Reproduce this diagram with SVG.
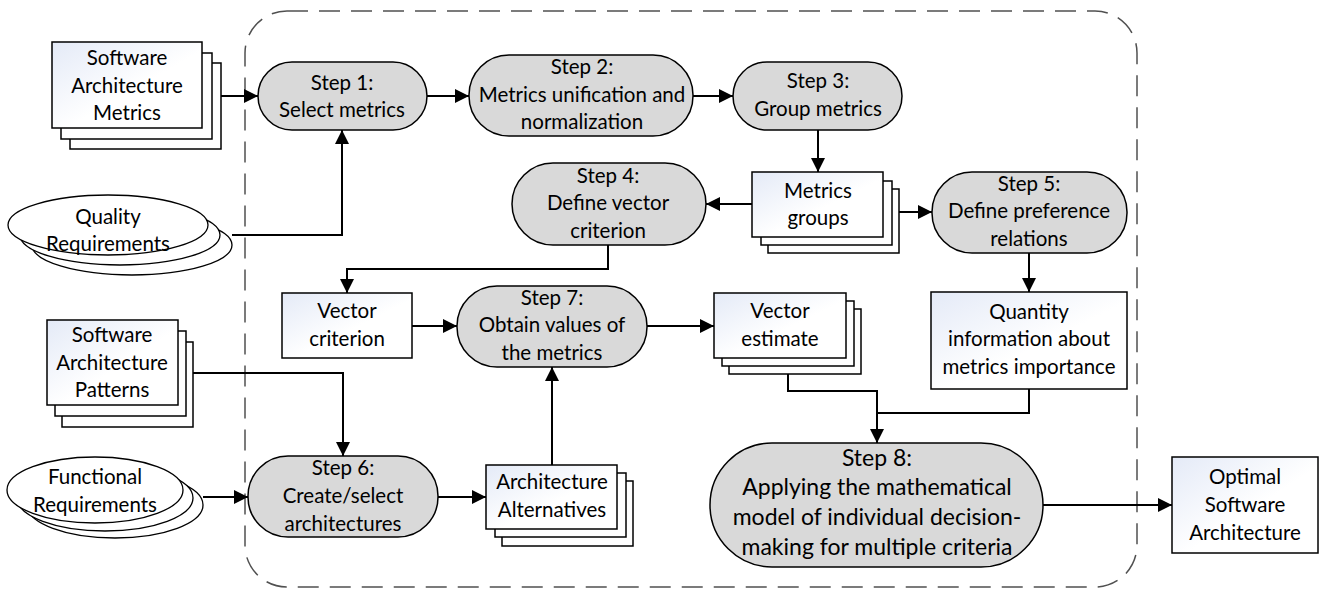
<svg xmlns="http://www.w3.org/2000/svg" width="1325" height="589" viewBox="0 0 1325 589">
  <defs>
    <linearGradient id="docFill" x1="0" y1="0" x2="1" y2="1">
      <stop offset="0" stop-color="#e4eaf7"/>
      <stop offset="0.55" stop-color="#ffffff"/>
    </linearGradient>
    <marker id="arrow" markerUnits="userSpaceOnUse" markerWidth="14" markerHeight="14" refX="14" refY="7" orient="auto">
      <path d="M0,0 L14,7 L0,14 z" fill="#000"/>
    </marker>
    <style>
      text { font-family: Lato, "Liberation Sans", sans-serif; font-size: 20.5px; fill: #000; text-anchor: middle; }
      .big { font-size: 23px; }
      .step { fill: #d9d9d9; stroke: #000; stroke-width: 1.5; }
      .doc { fill: url(#docFill); stroke: #000; stroke-width: 1.5; }
      .sheet { fill: #fff; stroke: #000; stroke-width: 1.5; }
      .oval { fill: #fff; stroke: #000; stroke-width: 1.3; }
      .frame { fill: none; stroke: #505050; stroke-width: 1.5; stroke-dasharray: 21 11; }
      .link { fill: none; stroke: #000; stroke-width: 2; marker-end: url(#arrow); }
    </style>
  </defs>

  <rect width="1325" height="589" fill="#fff"/>

  <!-- method boundary -->
  <rect class="frame" x="245" y="11" width="892" height="576" rx="42" ry="42"/>

  <!-- connectors -->
  <g id="connectors">
    <path class="link" d="M221,96 H258"/>
    <path class="link" d="M232,235 H342 V130"/>
    <path class="link" d="M427,96 H469"/>
    <path class="link" d="M693,96 H733"/>
    <path class="link" d="M818,130 V172"/>
    <path class="link" d="M752,204 H706"/>
    <path class="link" d="M899,212 H932"/>
    <path class="link" d="M1029,253 V292"/>
    <path class="link" d="M608,245 V269 H347 V293"/>
    <path class="link" d="M412,326 H457"/>
    <path class="link" d="M647,326 H714"/>
    <path class="link" d="M186,373 H343 V456"/>
    <path class="link" d="M203,497 H248"/>
    <path class="link" d="M438,497 H486"/>
    <path class="link" d="M552,465 V367"/>
    <path class="link" d="M788,366 V391 H877 V443"/>
    <path fill="none" stroke="#000" stroke-width="2" d="M1029,389 V413 H877"/>
    <path class="link" d="M1043,505 H1172"/>
  </g>

  <!-- inputs -->
  <g id="software-architecture-metrics">
    <rect class="sheet" x="70" y="63" width="151" height="86"/>
    <rect class="sheet" x="61" y="53" width="151" height="86"/>
    <rect class="doc" x="52" y="42" width="150" height="86"/>
    <text x="127" y="65">Software</text>
    <text x="127" y="93">Architecture</text>
    <text x="127" y="120">Metrics</text>
  </g>

  <g id="quality-requirements">
    <ellipse class="oval" cx="132" cy="245" rx="100" ry="30"/>
    <ellipse class="oval" cx="120" cy="235" rx="100" ry="30"/>
    <ellipse class="oval" cx="108" cy="225" rx="100" ry="30"/>
    <text x="108" y="224">Quality</text>
    <text x="108" y="251">Requirements</text>
  </g>

  <g id="software-architecture-patterns">
    <rect class="sheet" x="62" y="342" width="131" height="85"/>
    <rect class="sheet" x="55" y="331" width="131" height="85"/>
    <rect class="doc" x="47" y="320" width="131" height="85"/>
    <text x="112" y="342">Software</text>
    <text x="112" y="370">Architecture</text>
    <text x="112" y="397">Patterns</text>
  </g>

  <g id="functional-requirements">
    <ellipse class="oval" cx="115" cy="505" rx="88" ry="33"/>
    <ellipse class="oval" cx="105" cy="498" rx="88" ry="33"/>
    <ellipse class="oval" cx="95" cy="490" rx="88" ry="33"/>
    <text x="95" y="484">Functional</text>
    <text x="95" y="512">Requirements</text>
  </g>

  <!-- steps -->
  <g id="step1">
    <rect class="step" x="258" y="62" width="169" height="68" rx="34"/>
    <text x="342" y="90">Step 1:</text>
    <text x="342" y="117">Select metrics</text>
  </g>

  <g id="step2">
    <rect class="step" x="469" y="55" width="224" height="81" rx="40"/>
    <text x="582" y="74">Step 2:</text>
    <text x="582" y="102">Metrics unification and</text>
    <text x="582" y="129">normalization</text>
  </g>

  <g id="step3">
    <rect class="step" x="733" y="62" width="169" height="68" rx="34"/>
    <text x="818" y="88">Step 3:</text>
    <text x="818" y="116">Group metrics</text>
  </g>

  <g id="metrics-groups">
    <rect class="sheet" x="768" y="189" width="131" height="64"/>
    <rect class="sheet" x="761" y="181" width="131" height="64"/>
    <rect class="doc" x="752" y="172" width="131" height="65"/>
    <text x="818" y="198">Metrics</text>
    <text x="818" y="225">groups</text>
  </g>

  <g id="step4">
    <rect class="step" x="512" y="163" width="194" height="82" rx="41"/>
    <text x="608" y="183">Step 4:</text>
    <text x="608" y="210">Define vector</text>
    <text x="608" y="238">criterion</text>
  </g>

  <g id="step5">
    <rect class="step" x="932" y="172" width="195" height="81" rx="40"/>
    <text x="1029" y="191">Step 5:</text>
    <text x="1029" y="218">Define preference</text>
    <text x="1029" y="246">relations</text>
  </g>

  <g id="quantity-information">
    <rect class="doc" x="931" y="292" width="196" height="97"/>
    <text x="1029" y="319">Quantity</text>
    <text x="1029" y="346">information about</text>
    <text x="1029" y="374">metrics importance</text>
  </g>

  <g id="vector-criterion">
    <rect class="doc" x="282" y="293" width="130" height="65"/>
    <text x="347" y="318">Vector</text>
    <text x="347" y="346">criterion</text>
  </g>

  <g id="step7">
    <rect class="step" x="457" y="286" width="190" height="81" rx="40"/>
    <text x="552" y="305">Step 7:</text>
    <text x="552" y="332">Obtain values of</text>
    <text x="552" y="360">the metrics</text>
  </g>

  <g id="vector-estimate">
    <rect class="sheet" x="729" y="309" width="132" height="65"/>
    <rect class="sheet" x="722" y="301" width="132" height="65"/>
    <rect class="doc" x="714" y="293" width="132" height="65"/>
    <text x="780" y="318">Vector</text>
    <text x="780" y="346">estimate</text>
  </g>

  <g id="step6">
    <rect class="step" x="248" y="456" width="190" height="81" rx="40"/>
    <text x="343" y="475">Step 6:</text>
    <text x="343" y="503">Create/select</text>
    <text x="343" y="531">architectures</text>
  </g>

  <g id="architecture-alternatives">
    <rect class="sheet" x="502" y="481" width="131" height="65"/>
    <rect class="sheet" x="495" y="473" width="131" height="64"/>
    <rect class="doc" x="486" y="465" width="131" height="64"/>
    <text x="552" y="489">Architecture</text>
    <text x="552" y="517">Alternatives</text>
  </g>

  <g id="step8">
    <rect class="step" x="710" y="443" width="333" height="124" rx="62"/>
    <text class="big" x="877" y="466">Step 8:</text>
    <text class="big" x="877" y="495">Applying the mathematical</text>
    <text class="big" x="877" y="525">model of individual decision-</text>
    <text class="big" x="877" y="555">making for multiple criteria</text>
  </g>

  <!-- output -->
  <g id="optimal-software-architecture">
    <rect class="doc" x="1172" y="457" width="146" height="96"/>
    <text x="1245" y="484">Optimal</text>
    <text x="1245" y="512">Software</text>
    <text x="1245" y="540">Architecture</text>
  </g>
</svg>
